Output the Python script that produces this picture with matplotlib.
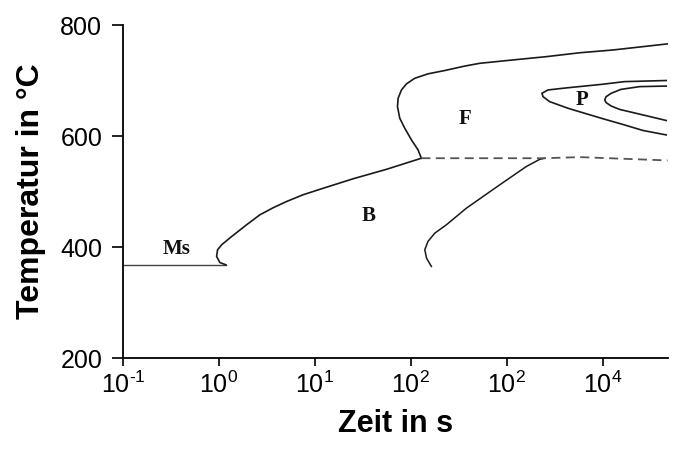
import matplotlib
matplotlib.use('Agg')
import matplotlib.pyplot as plt

plt.rcParams['font.family'] = ['Liberation Sans', 'DejaVu Sans']
plt.rcParams['mathtext.fontset'] = 'custom'
plt.rcParams['mathtext.rm'] = 'Liberation Sans'
plt.rcParams['mathtext.default'] = 'regular'

# ---- data (time in s, temperature in °C) ----
ms_t = [0.1, 1.18]
ms_T = [368, 368]

bs_t = [1.18, 1.024, 0.946, 0.968, 1.067, 1.36, 1.94, 2.67, 3.7, 5.07, 7.5, 11.3, 25.1, 55.8, 129]
bs_T = [368, 372, 383, 395, 404, 419, 440, 458, 471, 482, 494, 504, 523, 540, 560]

fs_t = [129, 119, 101.7, 86.6, 76.8, 72.7, 73.8, 80, 90.2, 110, 151, 226, 365, 523,
        1150, 2590, 5750, 12800, 47500]
fs_T = [560, 575, 593, 614, 632, 653, 668, 683, 694, 704, 712, 718, 726, 731,
        737, 743, 750, 755, 766]

be_t = [164, 146, 140, 151, 178, 235, 380, 845, 1600, 2210, 2490]
be_T = [365, 380, 395, 410, 425, 440, 470, 512, 545, 558, 560]

dash_t = [129, 2500, 5760, 47500]
dash_T = [560, 560, 562, 556]

po_t = [46000, 16900, 9680, 4350, 2690, 2330, 2390, 2800, 4350, 9680, 16900, 26300, 46000]
po_T = [700, 698, 693, 687, 683, 677, 671, 662, 650, 632, 620, 610, 602]

pi_t = [46000, 24300, 15500, 12300, 10900, 10500, 10900, 12300, 15000, 26300, 46000]
pi_T = [690, 689, 684, 677, 671, 665, 660, 654, 648, 638, 628]

labels = ['Ms', 'B', 'F', 'P']
label_t = [0.365, 36.5, 365, 6030]
label_T = [396, 456, 631, 665]

xticks = [0.1, 1, 10, 100, 1000, 10000]
xticklabels = [r'$10^{\text{-}1}$', r'$10^{0}$', r'$10^{1}$', r'$10^{2}$', r'$10^{2}$', r'$10^{4}$']
yticks = [200, 400, 600, 800]

fig = plt.figure(figsize=(6.75, 4.59), dpi=100)
ax = fig.add_axes([0.1822, 0.22, 0.8074, 0.7255])

lc = '#1a1a1a'
ax.plot(ms_t, ms_T, color='#444444', lw=1.0)
ax.plot(bs_t, bs_T, color=lc, lw=1.2)
ax.plot(fs_t, fs_T, color=lc, lw=1.2)
ax.plot(be_t, be_T, color=lc, lw=1.1)
ax.plot(dash_t, dash_T, color='#555555', lw=1.3, dashes=(5, 3))
ax.plot(po_t, po_T, color=lc, lw=1.2)
ax.plot(pi_t, pi_T, color=lc, lw=1.2)

for s, t, T in zip(labels, label_t, label_T):
    ax.text(t, T, s, family='Liberation Serif', fontweight='bold', fontsize=15,
            ha='center', va='center', color='#111111')

ax.set_xscale('log')
ax.set_xlim(0.1, 48000)
ax.set_ylim(200, 800)
ax.set_xticks(xticks)
ax.set_xticklabels(xticklabels)
ax.xaxis.set_minor_locator(matplotlib.ticker.NullLocator())
ax.set_yticks(yticks)

for side in ['top', 'right']:
    ax.spines[side].set_visible(False)
for side in ['left', 'bottom']:
    ax.spines[side].set_linewidth(1.3)
ax.tick_params(axis='both', labelsize=18, width=1.3, color='#111111')
ax.tick_params(axis='x', length=6, pad=4)
ax.tick_params(axis='y', length=8, pad=7)

ax.set_xlabel('Zeit in s', fontsize=22, fontweight='bold', labelpad=8)
ax.set_ylabel('Temperatur in °C', fontsize=23, fontweight='bold', labelpad=10)

fig.savefig('out.png', dpi=100)
